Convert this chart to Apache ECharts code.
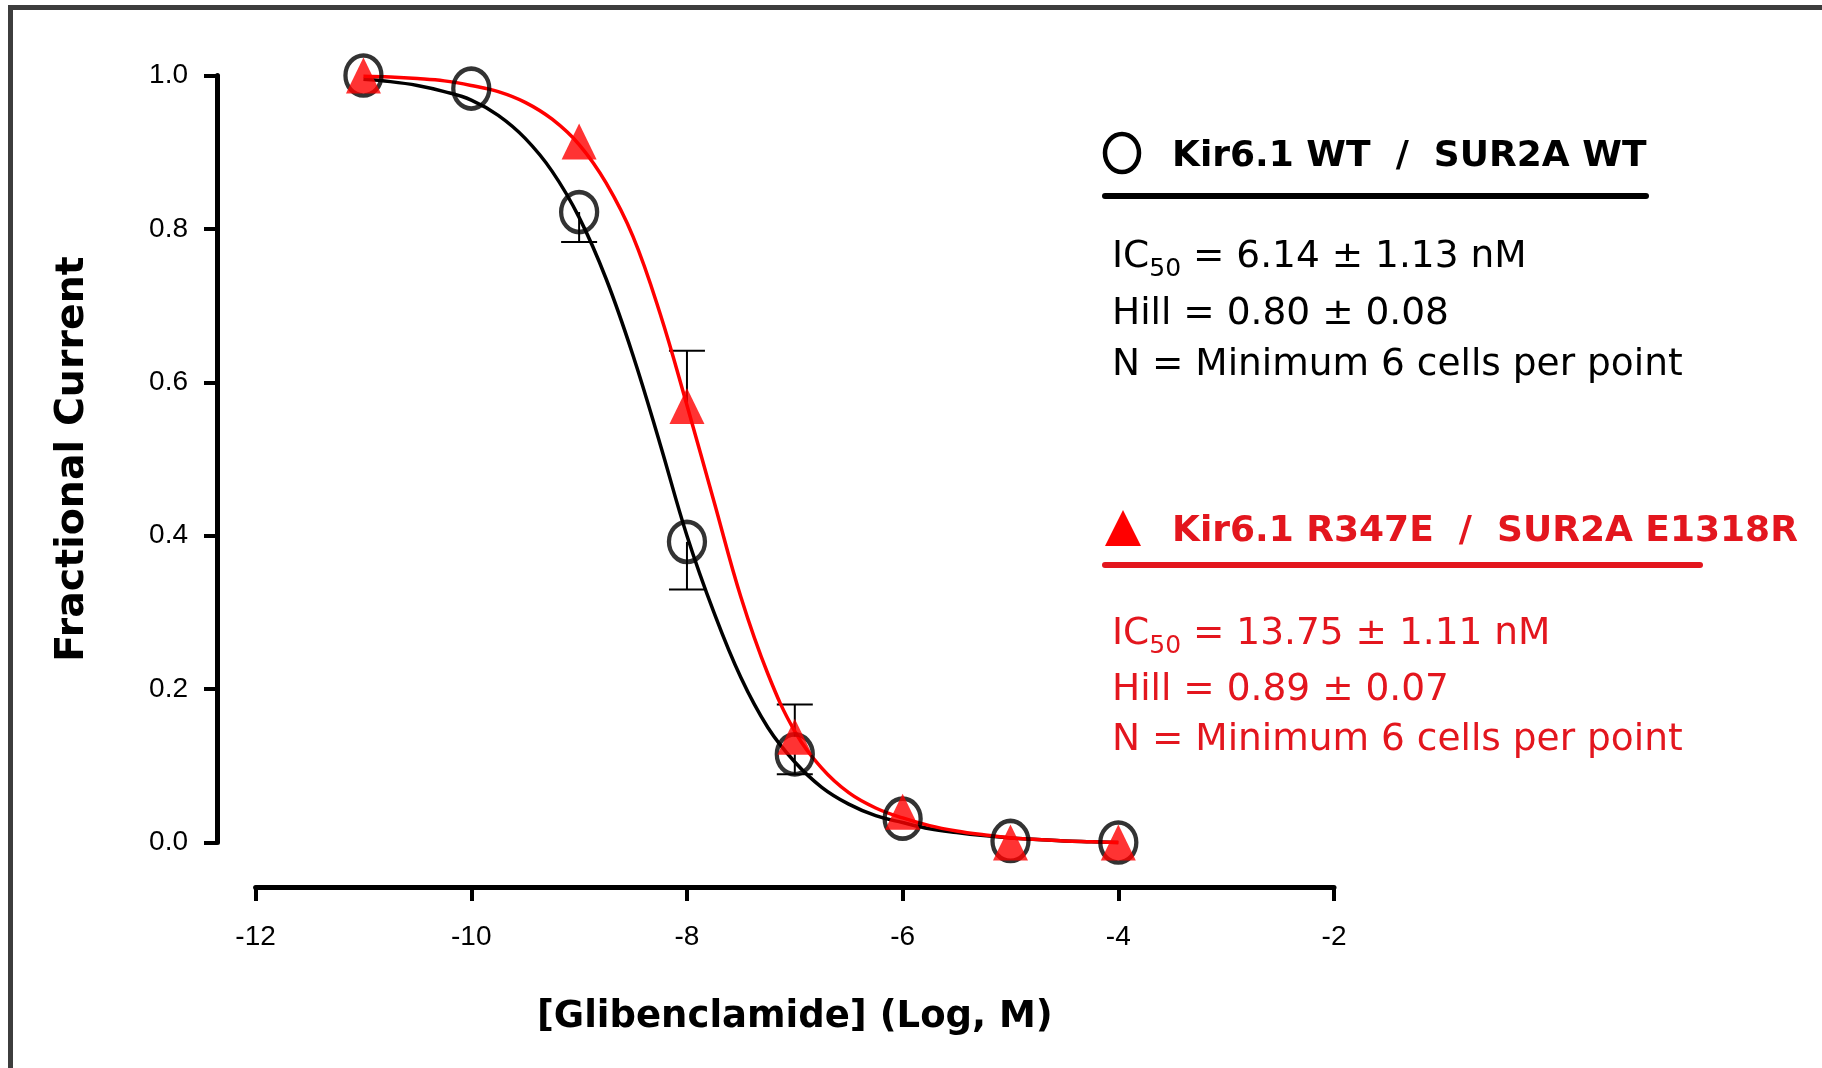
<!DOCTYPE html>
<html>
<head>
<meta charset="utf-8">
<title>Glibenclamide block</title>
<script src="https://cdn.jsdelivr.net/npm/echarts@6/dist/echarts.min.js"></script>
<style>
  html, body { margin: 0; padding: 0; background: #fff; }
  #chart { width: 1822px; height: 1068px; }
</style>
</head>
<body>
<div id="chart"></div>
<script>
// measured points, log M vs fractional current
const wtConc = [-11, -10, -9, -8, -7, -6, -5, -4]
const wtMean = [1.0, 0.983, 0.822, 0.392, 0.115, 0.031, 0.002, 0.0]
const wtSem = [0, 0, 0.039, 0.062, 0.026, 0, 0, 0]

const mutConc = [-11, -9, -8, -7, -6, -5, -4]
const mutMean = [1.0, 0.914, 0.569, 0.138, 0.040, 0.0, 0.0]
const mutSem = [0, 0, 0.072, 0.042, 0, 0, 0]

// fitted curves, every 0.25 log unit
const fitConc = [-11, -10.75, -10.5, -10.25, -10, -9.75, -9.5, -9.25, -9, -8.75, -8.5, -8.25, -8, -7.75,
  -7.5, -7.25, -7, -6.75, -6.5, -6.25, -6, -5.75, -5.5, -5.25, -5, -4.75, -4.5, -4.25, -4]
const wtFit = [0.995, 0.992, 0.987, 0.979, 0.968, 0.948, 0.918, 0.875, 0.815, 0.735, 0.635, 0.52, 0.40, 0.30,
  0.215, 0.15, 0.105, 0.072, 0.05, 0.035, 0.026, 0.018, 0.013, 0.009, 0.006, 0.004, 0.002, 0.001, 0.0]
const mutFit = [0.999, 0.998, 0.996, 0.993, 0.987, 0.979, 0.965, 0.943, 0.91, 0.86, 0.79, 0.69, 0.57, 0.445,
  0.32, 0.22, 0.145, 0.097, 0.065, 0.045, 0.032, 0.022, 0.015, 0.01, 0.006, 0.004, 0.002, 0.001, 0.0]

const xTicks = [-12, -10, -8, -6, -4, -2]
const yTicks = [0, 0.2, 0.4, 0.6, 0.8, 1.0]

const RED = '#ff0000'
const RED_TEXT = '#e3161e'
const sans = '"DejaVu Sans", Verdana, sans-serif'
const arial = '"Liberation Sans", Arial, sans-serif'

const zip = (xs, ys) => xs.map((x, i) => [x, ys[i]])
const zip3 = (xs, ys, es) => xs.map((x, i) => [x, ys[i], es[i]])

function errorBar(dir) {
  return function (params, api) {
    const e = api.value(2)
    if (!e) return null
    const x = api.value(0)
    const m = api.value(1)
    const p0 = api.coord([x, m])
    const p1 = api.coord([x, m + dir * e])
    const style = { stroke: '#000', lineWidth: 2 }
    return {
      type: 'group',
      children: [
        { type: 'line', shape: { x1: p0[0], y1: p0[1], x2: p1[0], y2: p1[1] }, style: style },
        { type: 'line', shape: { x1: p1[0] - 18, y1: p1[1], x2: p1[0] + 18, y2: p1[1] }, style: style }
      ]
    }
  }
}

function statText(y, label, color) {
  return {
    type: 'text',
    x: 1112,
    y: y,
    style: {
      text: label,
      font: '37.5px ' + sans,
      fill: color,
      verticalAlign: 'middle',
      align: 'left'
    }
  }
}

function icText(y, value, color) {
  const base = { fontSize: 37.5, fontFamily: sans, color: color, lineHeight: 50 }
  return {
    type: 'text',
    x: 1112,
    y: y,
    style: {
      text: '{m|IC}{s|50}{m| = ' + value + '}',
      fill: color,
      verticalAlign: 'middle',
      align: 'left',
      rich: {
        m: base,
        s: { fontSize: 25, fontFamily: sans, color: color, lineHeight: 24, verticalAlign: 'bottom' }
      }
    }
  }
}

const chart = echarts.init(document.getElementById('chart'))

chart.setOption({
  backgroundColor: '#fff',
  animation: false,
  grid: {
    left: 255.6,
    right: 488,
    top: 75.5,
    bottom: 225.5
  },
  xAxis: {
    type: 'value',
    min: xTicks[0],
    max: xTicks[xTicks.length - 1],
    interval: 2,
    offset: 44.5,
    name: '[Glibenclamide] (Log, M)',
    nameLocation: 'middle',
    nameGap: 112,
    nameTextStyle: { fontFamily: sans, fontWeight: 'bold', fontSize: 37, color: '#000' },
    axisLine: { onZero: false, lineStyle: { color: '#000', width: 5 } },
    axisTick: { length: 14, lineStyle: { color: '#000', width: 4 } },
    axisLabel: { margin: 36, fontFamily: arial, fontSize: 28, color: '#000' },
    splitLine: { show: false }
  },
  yAxis: {
    type: 'value',
    min: yTicks[0],
    max: yTicks[yTicks.length - 1],
    interval: 0.2,
    offset: 38.6,
    name: 'Fractional Current',
    nameLocation: 'middle',
    nameGap: 124,
    nameTextStyle: { fontFamily: sans, fontWeight: 'bold', fontSize: 39.5, color: '#000' },
    axisLine: { onZero: false, lineStyle: { color: '#000', width: 5 } },
    axisTick: { length: 13, lineStyle: { color: '#000', width: 4 } },
    axisLabel: {
      margin: 29,
      fontFamily: arial,
      fontSize: 28,
      color: '#000',
      formatter: v => v.toFixed(1)
    },
    splitLine: { show: false }
  },
  series: [
    {
      name: 'WT error',
      type: 'custom',
      renderItem: errorBar(-1),
      encode: { x: 0, y: 1 },
      clip: false,
      z: 1,
      data: zip3(wtConc, wtMean, wtSem)
    },
    {
      name: 'Mutant error',
      type: 'custom',
      renderItem: errorBar(1),
      encode: { x: 0, y: 1 },
      clip: false,
      z: 1,
      data: zip3(mutConc, mutMean, mutSem)
    },
    {
      name: 'WT fit',
      type: 'line',
      smooth: 0.4,
      showSymbol: false,
      clip: false,
      z: 2,
      lineStyle: { color: '#000', width: 3.5 },
      data: zip(fitConc, wtFit)
    },
    {
      name: 'Mutant fit',
      type: 'line',
      smooth: 0.4,
      showSymbol: false,
      clip: false,
      z: 3,
      lineStyle: { color: RED, width: 3.5 },
      data: zip(fitConc, mutFit)
    },
    {
      name: 'Kir6.1 WT / SUR2A WT',
      type: 'scatter',
      symbol: 'circle',
      symbolSize: [36, 40],
      clip: false,
      z: 4,
      itemStyle: { color: 'rgba(0,0,0,0)', borderColor: '#000', borderWidth: 4.5 },
      data: zip(wtConc, wtMean)
    },
    {
      name: 'Kir6.1 R347E / SUR2A E1318R',
      type: 'scatter',
      symbol: 'triangle',
      symbolSize: [35, 36],
      clip: false,
      z: 5,
      itemStyle: { color: RED },
      data: zip(mutConc, mutMean)
    }
  ],
  graphic: [
    {
      type: 'rect',
      silent: true,
      shape: { x: 10.5, y: 7.5, width: 2000, height: 2000 },
      style: { fill: 'none', stroke: '#3d3d3d', lineWidth: 5 }
    },
    // WT key
    {
      type: 'ellipse',
      shape: { cx: 1122, cy: 153, rx: 17, ry: 19 },
      style: { fill: 'none', stroke: '#000', lineWidth: 4.5 }
    },
    {
      type: 'text',
      x: 1172,
      y: 157,
      style: {
        text: 'Kir6.1 WT  /  SUR2A WT',
        font: 'bold 36px ' + sans,
        fill: '#000',
        verticalAlign: 'middle',
        align: 'left'
      }
    },
    {
      type: 'line',
      shape: { x1: 1105, y1: 196, x2: 1646, y2: 196 },
      style: { stroke: '#000', lineWidth: 6, lineCap: 'round' }
    },
    icText(257, '6.14 \u00b1 1.13 nM', '#000'),
    statText(314, 'Hill = 0.80 \u00b1 0.08', '#000'),
    statText(365, 'N = Minimum 6 cells per point', '#000'),
    // mutant key
    {
      type: 'polygon',
      shape: { points: [[1105, 546], [1141, 546], [1123, 510]] },
      style: { fill: RED }
    },
    {
      type: 'text',
      x: 1172,
      y: 532,
      style: {
        text: 'Kir6.1 R347E  /  SUR2A E1318R',
        font: 'bold 36px ' + sans,
        fill: RED_TEXT,
        verticalAlign: 'middle',
        align: 'left'
      }
    },
    {
      type: 'line',
      shape: { x1: 1105, y1: 565, x2: 1700, y2: 565 },
      style: { stroke: RED_TEXT, lineWidth: 6, lineCap: 'round' }
    },
    icText(634, '13.75 \u00b1 1.11 nM', RED_TEXT),
    statText(690, 'Hill = 0.89 \u00b1 0.07', RED_TEXT),
    statText(740, 'N = Minimum 6 cells per point', RED_TEXT)
  ]
})
</script>
</body>
</html>
